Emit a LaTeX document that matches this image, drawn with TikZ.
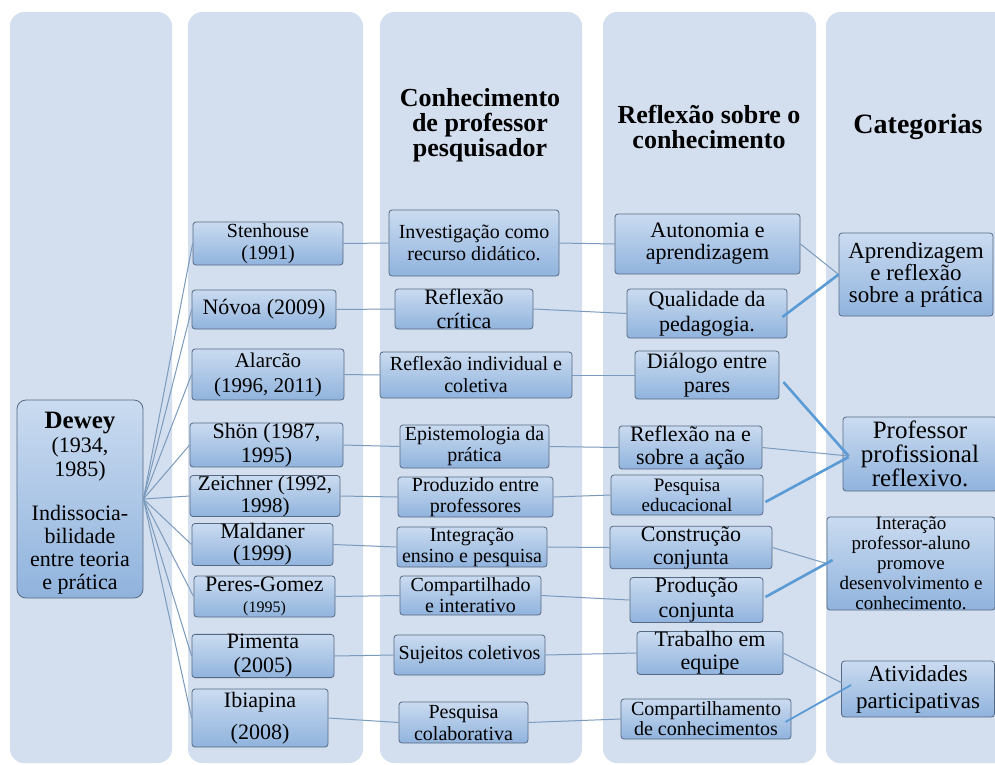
\documentclass[tikz,border=0pt]{standalone}
\usepackage{fontspec}
\setmainfont{LiberationSerif}[Extension=.ttf, UprightFont=*-Regular, BoldFont=*-Bold, ItalicFont=*-Italic, BoldItalicFont=*-BoldItalic]
\definecolor{colbg}{HTML}{D3DEEE}
\definecolor{boxtop}{HTML}{CADBF0}
\definecolor{boxbot}{HTML}{90B3DD}
\definecolor{boxline}{HTML}{566A84}
\definecolor{connclr}{HTML}{7A9BBE}
\definecolor{thickclr}{HTML}{5B9BD5}
\newcommand{\fz}[2]{\fontsize{#1}{#2}\selectfont}
\begin{document}
\begin{tikzpicture}[x=1pt,y=-1pt,
  colbox/.style={fill=colbg, rounded corners=14pt},
  box/.style={draw=boxline, line width=0.8pt, rounded corners=3pt, top color=boxtop, bottom color=boxbot, inner sep=0pt, align=center},
  conn/.style={draw=connclr, line width=1pt},
  connthick/.style={draw=thickclr, line width=2.6pt},
  hdr/.style={align=center, font={\rmfamily\fz{26}{25}\bfseries}}]
\useasboundingbox (0,0) rectangle (995,764);
\fill[white] (0,0) rectangle (995,764);
\begin{scope}
\clip (0,0) rectangle (995,764);
\fill[colbox] (10,12) rectangle (172,763);
\fill[colbox] (188,12) rectangle (363,763);
\fill[colbox] (380,12) rectangle (582,763);
\fill[colbox] (603,12) rectangle (816,763);
\fill[colbox] (826,12) rectangle (1012,763);
\end{scope}

% headers
\node[hdr] (h3) at (480,125) {Conhecimento\\de professor\\pesquisador};
\node[hdr] (h4) at (709,127) {Reflexão sobre o\\conhecimento};
\node[hdr, font={\rmfamily\fz{28}{28}\bfseries}] (h5) at (918,127) {Categorias};

% Dewey
\node[box, rounded corners=9pt, minimum width=126pt, minimum height=198pt] (dewey) at (80,499) {};
\node[align=center, inner sep=0pt, font={\fz{22}{23}}] (deweytext) at (80,503)
  {{\fz{25}{25}\bfseries Dewey}\\[1pt](1934,\\[1pt]1985)\\[21pt]Indissocia-\\bilidade\\entre teoria\\e prática};

% authors
\node[box, minimum width=150pt, minimum height=43pt, font={\fz{20}{22}}] (sten) at (268,243.5) {Stenhouse\\(1991)};
\node[box, minimum width=144pt, minimum height=39pt, font={\fz{22}{22}}] (novoa) at (264,309.5) {Nóvoa (2009)};
\node[box, minimum width=152pt, minimum height=51pt, font={\fz{21}{25}}] (alarcao) at (268,374.5) {Alarcão\\(1996, 2011)};
\node[box, minimum width=153pt, minimum height=40pt, font={\fz{22}{24}}] (shon) at (266.5,445) {Shön (1987,\\1995)};
\node[box, minimum width=150pt, minimum height=38pt, font={\fz{21}{22}}] (zeich) at (265,496) {Zeichner (1992,\\1998)};
\node[box, minimum width=141pt, minimum height=39pt, font={\fz{22}{22}}] (mald) at (262.5,544.5) {Maldaner\\(1999)};
\node[box, minimum width=141pt, minimum height=41pt, font={\fz{22}{21}}] (peres) at (264.5,596.5) {Peres-Gomez\\{\fz{16}{16}(1995)}};
\node[box, minimum width=142pt, minimum height=40pt, font={\fz{22}{24}}] (pimenta) at (263,656) {Pimenta\\(2005)};
\node[box, minimum width=136pt, minimum height=58pt, font={\fz{22}{32}}] (ibiap) at (260,718) {Ibiapina\\(2008)};

% column 3
\node[box, minimum width=170pt, minimum height=66pt, font={\fz{20}{22}}] (invest) at (474,243) {Investigação como\\recurso didático.};
\node[box, minimum width=138pt, minimum height=40pt, font={\fz{22}{24}}] (refcrit) at (464,309) {Reflexão\\crítica};
\node[box, minimum width=192pt, minimum height=46pt, font={\fz{20}{22}}] (refind) at (476,375) {Reflexão individual e\\coletiva};
\node[box, minimum width=149pt, minimum height=43pt, font={\fz{20}{21}}] (epist) at (474.5,446.5) {Epistemologia da\\prática};
\node[box, minimum width=155pt, minimum height=40pt, font={\fz{20}{21}}] (produz) at (475.5,497) {Produzido entre\\professores};
\node[box, minimum width=150pt, minimum height=40pt, font={\fz{20}{21}}] (integr) at (472,547) {Integração\\ensino e pesquisa};
\node[box, minimum width=141pt, minimum height=39pt, font={\fz{20}{21}}] (compart) at (470.5,595.5) {Compartilhado\\e interativo};
\node[box, minimum width=151pt, minimum height=40pt, font={\fz{20}{21}}] (sujeitos) at (469.5,655) {Sujeitos coletivos};
\node[box, minimum width=129pt, minimum height=41pt, font={\fz{20}{22}}] (pesqcol) at (463.5,722.5) {Pesquisa\\colaborativa};

% column 4
\node[box, minimum width=185pt, minimum height=60pt, font={\fz{22}{22}}] (auton) at (707.5,244) {Autonomia e\\aprendizagem};
\node[box, minimum width=160pt, minimum height=49pt, font={\fz{22}{25}}] (qual) at (707,313.5) {Qualidade da\\pedagogia.};
\node[box, minimum width=144pt, minimum height=48pt, font={\fz{22}{24}}] (dial) at (707,375) {Diálogo entre\\pares};
\node[box, minimum width=143pt, minimum height=41pt, font={\fz{22}{23}}] (refna) at (690.5,447.5) {Reflexão na e\\sobre a ação};
\node[box, minimum width=152pt, minimum height=40pt, font={\fz{19}{20}}] (pesqed) at (687,495) {Pesquisa\\educacional};
\node[box, minimum width=162pt, minimum height=39pt, font={\fz{22}{23}}] (constr) at (691,547.5) {Construção\\conjunta};
\node[box, minimum width=133pt, minimum height=40pt, font={\fz{22}{25}}] (produc) at (696.5,600) {Produção\\conjunta};
\node[box, minimum width=146pt, minimum height=40pt, font={\fz{22}{23}}] (trab) at (710,653) {Trabalho em\\equipe};
\node[box, minimum width=170pt, minimum height=40pt, font={\fz{20}{20}}] (compconh) at (706,719) {Compartilhamento\\de conhecimentos};

% column 5
\node[box, minimum width=154pt, minimum height=83pt, font={\fz{23}{22}}] (aprend) at (916,274.5) {Aprendizagem\\e reflexão\\sobre a prática};
\node[box, minimum width=154pt, minimum height=74pt, font={\fz{25}{24}}] (prof) at (920,454) {Professor\\profissional\\reflexivo.};
\node[box, minimum width=168pt, minimum height=93pt, font={\fz{19}{20}}] (inter) at (911,563.5) {Interação\\professor-aluno\\promove\\desenvolvimento e\\conhecimento.};
\node[box, minimum width=153pt, minimum height=56pt, font={\fz{23}{27}}] (ativ) at (918,689) {Atividades\\participativas};

% fan from Dewey
\foreach \n in {sten,novoa,alarcao,shon,zeich,mald,peres,pimenta,ibiap}
  \draw[conn] (dewey.east) -- (\n.west);

% horizontal connectors
\draw[conn] (sten.east) -- (invest.west);
\draw[conn] (novoa.east) -- (refcrit.west);
\draw[conn] (alarcao.east) -- (refind.west);
\draw[conn] (shon.east) -- (epist.west);
\draw[conn] (zeich.east) -- (produz.west);
\draw[conn] (mald.east) -- (integr.west);
\draw[conn] (peres.east) -- (compart.west);
\draw[conn] (pimenta.east) -- (sujeitos.west);
\draw[conn] (ibiap.east) -- (pesqcol.west);

\draw[conn] (invest.east) -- (auton.west);
\draw[conn] (refcrit.east) -- (qual.west);
\draw[conn] (refind.east) -- (dial.west);
\draw[conn] (epist.east) -- (refna.west);
\draw[conn] (produz.east) -- (pesqed.west);
\draw[conn] (integr.east) -- (constr.west);
\draw[conn] (compart.east) -- (produc.west);
\draw[conn] (sujeitos.east) -- (trab.west);
\draw[conn] (pesqcol.east) -- (compconh.west);

% to categories
\draw[conn] (auton.east) -- (aprend.west);
\draw[connthick] ([shift={(-5,3.5)}]qual.east) -- (aprend.west);
\draw[connthick] ([shift={(4,7)}]dial.east) -- ([shift={(6,2)}]prof.west);
\draw[conn] (refna.east) -- ([shift={(6,2)}]prof.west);
\draw[connthick] ([shift={(2,7)}]pesqed.east) -- ([shift={(6,3)}]prof.west);
\draw[conn] (constr.east) -- (inter.west);
\draw[connthick] ([shift={(2,-3)}]produc.east) -- ([shift={(6,-3.5)}]inter.west);
\draw[conn] (trab.east) -- ([shift={(1,-6)}]ativ.west);
\draw[connthick, line width=1.8pt] ([shift={(-6,3)}]compconh.east) -- ([shift={(10,-4)}]ativ.west);
\end{tikzpicture}
\end{document}
